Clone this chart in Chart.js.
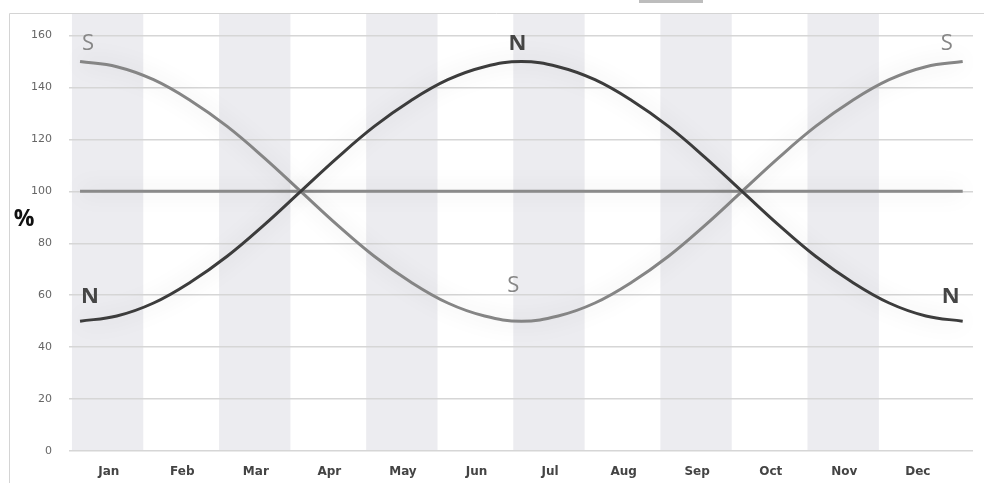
<!DOCTYPE html>
<html>
<head>
<meta charset="utf-8">
<script src="https://cdn.jsdelivr.net/npm/chart.js@4.4.1/dist/chart.umd.min.js"></script>
<style>
  html, body { margin: 0; padding: 0; background: #fff; }
  #wrap { width: 984px; height: 483px; }
</style>
</head>
<body>
<div id="wrap"><canvas id="chart" width="984" height="483"></canvas></div>
<script>
// Month names along the bottom
const months = ['Jan', 'Feb', 'Mar', 'Apr', 'May', 'Jun', 'Jul', 'Aug', 'Sep', 'Oct', 'Nov', 'Dec'];
// Curve samples every half month over the year
const monthSteps = [0, 0.5, 1, 1.5, 2, 2.5, 3, 3.5, 4, 4.5, 5, 5.5, 6,
                    6.5, 7, 7.5, 8, 8.5, 9, 9.5, 10, 10.5, 11, 11.5, 12];
const northValues = [50, 52, 57, 65, 75, 87, 100, 113, 125, 135, 143, 148, 150,
                     148, 143, 135, 125, 113, 100, 87, 75, 65, 57, 52, 50];
const southValues = [150, 148, 143, 135, 125, 113, 100, 87, 75, 65, 57, 52, 50,
                     52, 57, 65, 75, 87, 100, 113, 125, 135, 143, 148, 150];
const levelValues = [100, 100, 100, 100, 100, 100, 100, 100, 100, 100, 100, 100, 100,
                     100, 100, 100, 100, 100, 100, 100, 100, 100, 100, 100, 100];
const yTicks = [0, 20, 40, 60, 80, 100, 120, 140, 160];

// Letters placed next to curve points: [dataset, point index, text]
const curveTags = [
    [1, 0, 'S'], [0, 12, 'N'], [1, 24, 'S'],
    [0, 0, 'N'], [1, 12, 'S'], [0, 24, 'N']
];

const bandStart = -0.11;   // month stripes start a little before the first sample
const labelShift = 0.39;   // month names sit in the middle of each stripe
const frameTop = 13;

const toPoints = vals => vals.map((v, i) => ({ x: monthSteps[i], y: v }));

const backdrop = {
    id: 'backdrop',
    beforeDraw(chart) {
        const { ctx, scales: { x, y } } = chart;
        ctx.save();
        // alternating month stripes, running up to the frame
        ctx.fillStyle = '#ececf0';
        for (let k = 0; k < months.length; k += 2) {
            const x0 = x.getPixelForValue(bandStart + k);
            const x1 = x.getPixelForValue(bandStart + k + 0.97);
            ctx.fillRect(x0, frameTop, x1 - x0, y.getPixelForValue(0) - frameTop);
        }
        // outer frame edges
        ctx.strokeStyle = '#d4d4d4';
        ctx.lineWidth = 1;
        ctx.beginPath();
        ctx.moveTo(9.5, 483);
        ctx.lineTo(9.5, frameTop + 0.5);
        ctx.lineTo(984, frameTop + 0.5);
        ctx.stroke();
        // small tab on the top edge
        ctx.fillStyle = '#bdbdbd';
        ctx.fillRect(639, 0, 64, 3);
        ctx.restore();
    },
    beforeDatasetsDraw(chart) {
        const ctx = chart.ctx;
        ctx.save();
        ctx.shadowColor = 'rgba(0,0,0,0.18)';
        ctx.shadowBlur = 22;
    },
    afterDatasetsDraw(chart) {
        const ctx = chart.ctx;
        ctx.restore();
        ctx.save();
        // S / N letters at the ends and turning points
        ctx.textAlign = 'center';
        ctx.textBaseline = 'middle';
        const offsets = [[8, -18], [-4, -18], [-16, -18], [10, -24], [-8, -35], [-12, -24]];
        curveTags.forEach(([ds, idx, txt], i) => {
            const pt = chart.getDatasetMeta(ds).data[idx];
            const isNorth = txt === 'N';
            ctx.fillStyle = isNorth ? '#454545' : '#868686';
            ctx.font = (isNorth ? '700 ' : '400 ') + '22px "Open Sans"';
            ctx.fillText(txt, pt.x + offsets[i][0], pt.y + offsets[i][1]);
        });
        // axis unit
        ctx.fillStyle = '#111';
        ctx.font = '700 23px "Open Sans"';
        ctx.fillText('%', 24, 219);
        ctx.restore();
    }
};

new Chart(document.getElementById('chart'), {
    type: 'line',
    data: {
        datasets: [
            {
                label: 'N',
                data: toPoints(northValues),
                borderColor: '#3c3c3c',
                borderWidth: 3,
                pointRadius: 0,
                tension: 0.4
            },
            {
                label: 'S',
                data: toPoints(southValues),
                borderColor: '#858585',
                borderWidth: 3,
                pointRadius: 0,
                tension: 0.4
            },
            {
                label: 'level',
                data: toPoints(levelValues),
                borderColor: '#8a8a8a',
                borderWidth: 3,
                pointRadius: 0
            }
        ]
    },
    options: {
        responsive: false,
        animation: false,
        layout: { padding: { top: 4, right: 11, bottom: 0, left: 0 } },
        plugins: {
            legend: { display: false },
            tooltip: { enabled: false }
        },
        scales: {
            x: {
                type: 'linear',
                min: -0.15,
                max: 12.14,
                afterBuildTicks(scale) {
                    scale.ticks = months.map((m, i) => ({ value: i + labelShift }));
                },
                afterFit(scale) { scale.height = 32; },
                ticks: {
                    autoSkip: false,
                    maxRotation: 0,
                    padding: 6,
                    color: '#444',
                    font: { family: 'DejaVu Sans', size: 12, weight: 'bold' },
                    callback: (v, i) => months[i]
                },
                grid: { display: false },
                border: { display: false }
            },
            y: {
                min: 0,
                max: 164.6,
                afterBuildTicks(scale) {
                    scale.ticks = yTicks.map(v => ({ value: v }));
                },
                afterFit(scale) { scale.width = 69; },
                ticks: {
                    padding: 17,
                    color: '#666',
                    font: { family: 'DejaVu Sans', size: 11 }
                },
                grid: { color: '#d6d6d6', lineWidth: 1.5, drawTicks: false },
                border: { display: false }
            }
        }
    },
    plugins: [backdrop]
});
</script>
</body>
</html>
